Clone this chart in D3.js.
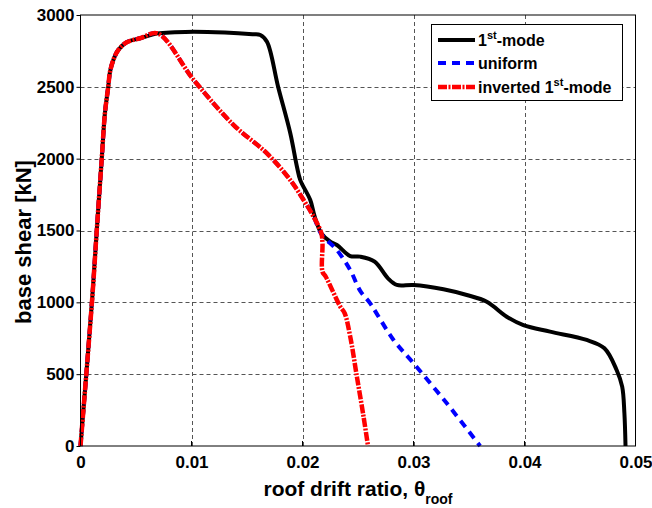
<!DOCTYPE html>
<html>
<head>
<meta charset="utf-8">
<script src="https://cdn.jsdelivr.net/npm/d3@7/dist/d3.min.js"></script>
<style>
  html, body { margin: 0; padding: 0; background: #fff; }
  svg { display: block; font-family: "Liberation Sans", Arial, sans-serif; font-weight: bold; }
</style>
</head>
<body>
<svg id="chart" width="652" height="508"></svg>
<script>
// Elastic branch shared by all three load patterns (roof drift ratio, base shear kN)
const commonDrift = [0, 0.00106, 0.00146, 0.00191, 0.0022, 0.0025, 0.00266, 0.00296, 0.0034, 0.00416, 0.00536, 0.00695];
const commonShear = [0, 1032, 1496, 1995, 2316, 2501, 2605, 2687, 2756, 2810, 2838, 2872];

// 1st-mode load pattern, post-yield branch
const mode1Drift = [0.0085, 0.0102, 0.013, 0.0155, 0.0162, 0.0168, 0.0178, 0.0189, 0.0195, 0.0198, 0.0207, 0.0211, 0.0217, 0.0225, 0.0231, 0.0243, 0.0252, 0.0265, 0.0277, 0.0285, 0.030, 0.0327, 0.0348, 0.0366, 0.0384, 0.0399, 0.0423, 0.0456, 0.0472, 0.0483, 0.0488, 0.0490, 0.0491];
const mode1Shear = [2880, 2884, 2878, 2866, 2861, 2814, 2501, 2177, 1944, 1851, 1712, 1596, 1480, 1422, 1399, 1322, 1318, 1283, 1167, 1121, 1121, 1091, 1051, 1004, 900, 842, 796, 738, 680, 529, 413, 228, 0];

// uniform load pattern, post-peak branch
const uniformDrift = [0.0102, 0.0138, 0.0168, 0.0189, 0.0201, 0.021, 0.0217, 0.0231, 0.0243, 0.0252, 0.0261, 0.0267, 0.0282, 0.030, 0.033, 0.036];
const uniformShear = [2548, 2234, 2037, 1851, 1712, 1596, 1475, 1364, 1225, 1080, 993, 920, 738, 576, 297, 0];

// inverted 1st-mode load pattern, post-peak branch
const invertedDrift = [0.0102, 0.0138, 0.0168, 0.0189, 0.0201, 0.021, 0.0217, 0.0218, 0.0218, 0.0221, 0.0234, 0.0238, 0.0243, 0.0249, 0.0255, 0.0259];
const invertedShear = [2548, 2234, 2037, 1851, 1712, 1596, 1480, 1411, 1213, 1178, 970, 924, 761, 482, 204, 0];

const xTicks = [0, 0.01, 0.02, 0.03, 0.04, 0.05];
const xTickLabels = ["0", "0.01", "0.02", "0.03", "0.04", "0.05"];
const yTicks = [0, 500, 1000, 1500, 2000, 2500, 3000];

const svg = d3.select("#chart");
const plotLeft = 80.5, plotRight = 635.5, plotTop = 15, plotBottom = 446;

const x = d3.scaleLinear().domain([0, 0.05]).range([plotLeft, plotRight]);
const y = d3.scaleLinear().domain([0, 3000]).range([plotBottom, plotTop]);

// grid
const grid = svg.append("g").attr("stroke", "#555").attr("stroke-width", 1).attr("stroke-dasharray", "4,3");
grid.selectAll("line.v").data(xTicks.slice(1, -1)).join("line")
  .attr("x1", d => Math.round(x(d)) + 0.5).attr("x2", d => Math.round(x(d)) + 0.5)
  .attr("y1", plotTop).attr("y2", plotBottom);
grid.selectAll("line.h").data(yTicks.slice(1, -1)).join("line")
  .attr("y1", d => Math.round(y(d)) + 0.5).attr("y2", d => Math.round(y(d)) + 0.5)
  .attr("x1", plotLeft).attr("x2", plotRight);

// axes
const xAxis = d3.axisBottom(x).tickValues(xTicks).tickFormat((d, i) => xTickLabels[i]).tickSize(0).tickPadding(10);
const yAxis = d3.axisLeft(y).tickValues(yTicks).tickFormat(d3.format("d")).tickSize(4).tickPadding(2);

const gx = svg.append("g").attr("transform", `translate(0,${plotBottom})`).call(xAxis);
const gy = svg.append("g").attr("transform", `translate(${plotLeft},0)`).call(yAxis);
[gx, gy].forEach(g => {
  g.select(".domain").remove();
  g.selectAll("text").attr("font-size", 17).attr("font-weight", "bold")
    .attr("font-family", "Liberation Sans, Arial, sans-serif").attr("fill", "#000");
  g.selectAll("line").attr("stroke", "#000");
});

// inner ticks on the x axis
svg.append("g").selectAll("line").data(xTicks).join("line")
  .attr("x1", d => x(d)).attr("x2", d => x(d))
  .attr("y1", plotBottom).attr("y2", plotBottom - 5)
  .attr("stroke", "#000");

// curves
const line = d3.line().x(d => x(d[0])).y(d => y(d[1])).curve(d3.curveCatmullRom.alpha(0.5));
const toPts = (xs, ys) => xs.map((v, i) => [v, ys[i]]);
const common = toPts(commonDrift, commonShear);

const plot = svg.append("g");
plot.append("path").datum(common.concat(toPts(mode1Drift, mode1Shear)))
  .attr("d", line).attr("fill", "none").attr("stroke", "#000").attr("stroke-width", 4)
  .attr("stroke-linejoin", "round");
plot.append("path").datum(common.concat(toPts(uniformDrift, uniformShear)))
  .attr("d", line).attr("fill", "none").attr("stroke", "#0000ff").attr("stroke-width", 4)
  .attr("stroke-dasharray", "8,6");
plot.append("path").datum(common.concat(toPts(invertedDrift, invertedShear)))
  .attr("d", line).attr("fill", "none").attr("stroke", "#ff0000").attr("stroke-width", 4.5)
  .attr("stroke-dasharray", "9,1.5,2,1.5");

// frame
svg.append("rect").attr("x", plotLeft).attr("y", plotTop).attr("width", plotRight - plotLeft).attr("height", plotBottom - plotTop)
  .attr("fill", "none").attr("stroke", "#000").attr("stroke-width", 1);

// axis titles
const xt = svg.append("text").attr("x", 358).attr("y", 496).attr("text-anchor", "middle")
  .attr("font-size", 21);
xt.append("tspan").text("roof drift ratio, θ");
xt.append("tspan").attr("font-size", 14).attr("dy", 8).text("roof");

svg.append("text").attr("transform", "translate(31,242) rotate(-90)").attr("text-anchor", "middle")
  .attr("font-size", 22).text("base shear [kN]");

// legend
const lg = svg.append("g");
lg.append("rect").attr("x", 431.5).attr("y", 24.5).attr("width", 191).attr("height", 76)
  .attr("fill", "#fff").attr("stroke", "#000").attr("stroke-width", 1);
const legendItems = [
  { color: "#000", dash: null, w: 4, label: ["1", "st", "-mode"] },
  { color: "#0000ff", dash: "8,6", w: 4, label: ["uniform"] },
  { color: "#ff0000", dash: "9,1.5,2,1.5", w: 4.5, label: ["inverted 1", "st", "-mode"] }
];
const rowY = [40, 63, 87];
legendItems.forEach((it, i) => {
  lg.append("line").attr("x1", 438).attr("x2", 475).attr("y1", rowY[i]).attr("y2", rowY[i])
    .attr("stroke", it.color).attr("stroke-width", it.w).attr("stroke-dasharray", it.dash);
  const t = lg.append("text").attr("x", 478).attr("y", rowY[i] + 6).attr("font-size", 16);
  t.append("tspan").text(it.label[0]);
  if (it.label.length > 1) {
    t.append("tspan").attr("font-size", 11).attr("dy", -7).text(it.label[1]);
    t.append("tspan").attr("dy", 7).text(it.label[2]);
  }
});
</script>
</body>
</html>
